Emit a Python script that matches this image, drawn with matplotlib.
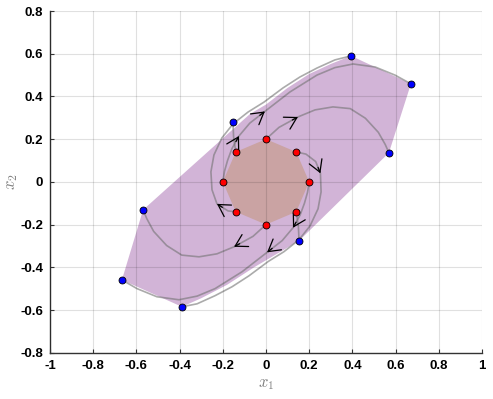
import matplotlib
matplotlib.use("Agg")
import matplotlib.pyplot as plt
import numpy as np

# initial set (octagon vertices)
red_x = [0.0, 0.14, 0.2, 0.14, 0.0, -0.14, -0.2, -0.14]
red_y = [0.2, 0.14, 0.0, -0.14, -0.2, -0.14, 0.0, 0.14]

# end points of the trajectories
blue_x = [0.569, 0.153, -0.389, -0.667, -0.569, -0.153, 0.394, 0.671]
blue_y = [0.136, -0.276, -0.585, -0.459, -0.131, 0.280, 0.590, 0.459]

# reach set outline (purple)
reach_x = [0.671, 0.394, 0.300, 0.200, 0.100, 0.000, -0.074, -0.569, -0.667,
           -0.389, -0.300, -0.180, -0.055, 0.153, 0.569]
reach_y = [0.459, 0.590, 0.552, 0.505, 0.440, 0.362, 0.318, -0.131, -0.459,
           -0.585, -0.545, -0.482, -0.400, -0.276, 0.136]

# trajectories
traj_a_x = [0.000, 0.060, 0.148, 0.227, 0.310, 0.390, 0.460, 0.520, 0.552, 0.569]
traj_a_y = [0.200, 0.255, 0.304, 0.337, 0.351, 0.343, 0.298, 0.232, 0.175, 0.136]
traj_b_x = [0.000, -0.060, -0.148, -0.227, -0.310, -0.390, -0.460, -0.520, -0.552, -0.569]
traj_b_y = [-0.200, -0.255, -0.304, -0.337, -0.351, -0.343, -0.298, -0.232, -0.172, -0.131]
traj_c_x = [-0.200, -0.192, -0.178, -0.158, -0.125, -0.075, -0.005, 0.111, 0.236, 0.319,
            0.403, 0.505, 0.597, 0.671]
traj_c_y = [0.000, 0.050, 0.100, 0.155, 0.215, 0.275, 0.330, 0.421, 0.500, 0.535,
            0.552, 0.538, 0.500, 0.459]
traj_c2_x = [0.200, 0.192, 0.178, 0.158, 0.125, 0.075, 0.005, -0.111, -0.236, -0.319,
             -0.403, -0.505, -0.597, -0.667]
traj_c2_y = [0.000, -0.050, -0.100, -0.155, -0.215, -0.275, -0.330, -0.421, -0.500, -0.535,
             -0.552, -0.538, -0.500, -0.459]
traj_d_x = [-0.140, -0.176, -0.227, -0.250, -0.255, -0.241, -0.204, -0.153, -0.083, -0.010,
            0.079, 0.157, 0.236, 0.319, 0.394]
traj_d_y = [-0.140, -0.136, -0.103, -0.037, 0.047, 0.126, 0.206, 0.271, 0.327, 0.373,
            0.440, 0.491, 0.533, 0.571, 0.590]
traj_d2_x = [0.140, 0.185, 0.230, 0.252, 0.255, 0.241, 0.204, 0.153, 0.083, 0.010,
             -0.079, -0.157, -0.236, -0.319, -0.389]
traj_d2_y = [0.140, 0.130, 0.095, 0.040, -0.047, -0.126, -0.206, -0.271, -0.327, -0.373,
             -0.440, -0.491, -0.533, -0.571, -0.585]
traj_e_x = [-0.140, -0.150, -0.153]
traj_e_y = [0.140, 0.210, 0.280]
traj_e2_x = [0.140, 0.150, 0.153]
traj_e2_y = [-0.140, -0.210, -0.276]

trajs = [(traj_a_x, traj_a_y, [2]), (traj_b_x, traj_b_y, [2]),
         (traj_c_x, traj_c_y, [4, 6]), (traj_c2_x, traj_c2_y, [4, 6]),
         (traj_d_x, traj_d_y, [2]), (traj_d2_x, traj_d2_y, [3]),
         (traj_e_x, traj_e_y, []), (traj_e2_x, traj_e2_y, [])]

ticks = [-1, -0.8, -0.6, -0.4, -0.2, 0, 0.2, 0.4, 0.6, 0.8, 1]
xtick_labels = ["-1", "-0.8", "-0.6", "-0.4", "-0.2", "0", "0.2", "0.4", "0.6", "0.8", "1"]
yticks = [-0.8, -0.6, -0.4, -0.2, 0, 0.2, 0.4, 0.6, 0.8]
ytick_labels = ["-0.8", "-0.6", "-0.4", "-0.2", "0", "0.2", "0.4", "0.6", "0.8"]

plt.rcParams["mathtext.fontset"] = "cm"

fig = plt.figure(figsize=(4.93, 3.99), dpi=100)
ax = fig.add_axes([0.1014, 0.116, 0.8763, 0.8564])

ax.fill(reach_x, reach_y, color="#D2B4D7", lw=0, zorder=1)
ax.fill(red_x, red_y, color="#CAA3A3", lw=0, zorder=1.1)

for tx, ty, arrows in trajs:
    ax.plot(tx, ty, color="0.45", alpha=0.6, lw=1.2, zorder=2)
    for i in arrows:
        dx = tx[i] - tx[i - 1]
        dy = ty[i] - ty[i - 1]
        n = np.hypot(dx, dy)
        ax.annotate("", xy=(tx[i], ty[i]),
                    xytext=(tx[i] - 0.03 * dx / n, ty[i] - 0.03 * dy / n),
                    arrowprops=dict(arrowstyle="->,head_length=0.6,head_width=0.35",
                                    color="k", lw=0.9, mutation_scale=14,
                                    shrinkA=0, shrinkB=0),
                    zorder=3)

ax.plot(red_x, red_y, "o", mfc="red", mec="k", ms=5, mew=0.6, zorder=4)
ax.plot(blue_x, blue_y, "o", mfc="blue", mec="k", ms=5, mew=0.6, zorder=4)

ax.set_xlim(-1, 1)
ax.set_ylim(-0.8, 0.8)
ax.set_xticks(ticks)
ax.set_xticklabels(xtick_labels)
ax.set_yticks(yticks)
ax.set_yticklabels(ytick_labels)
ax.set_axisbelow(False)
ax.grid(True, color="k", alpha=0.12, lw=0.8)

for s in ["top", "right"]:
    ax.spines[s].set_visible(False)
for s in ["left", "bottom"]:
    ax.spines[s].set_color("0.2")
    ax.spines[s].set_linewidth(1.0)

ax.tick_params(direction="in", length=3, color="0.2", pad=5)
for lab in ax.get_xticklabels() + ax.get_yticklabels():
    lab.set_fontweight("bold")
    lab.set_fontsize(9.5)
    lab.set_family("Liberation Sans")

ax.set_xlabel("$x_1$", fontsize=12, color="0.5", labelpad=2)
ax.set_ylabel("$x_2$", fontsize=12, color="0.5")
ax.yaxis.set_label_coords(-0.07, 0.5)

fig.savefig("out.png", dpi=100)
